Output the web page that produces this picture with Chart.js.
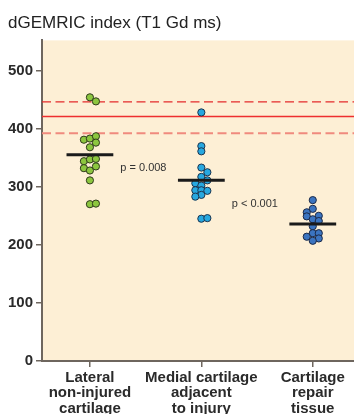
<!DOCTYPE html>
<html>
<head>
<meta charset="utf-8">
<script src="https://cdn.jsdelivr.net/npm/chart.js@4.4.0/dist/chart.umd.min.js"></script>
<style>
  html, body { margin: 0; padding: 0; background: #ffffff; }
  #wrap { width: 354px; height: 414px; }
</style>
</head>
<body>
<div id="wrap"><canvas id="c" width="354" height="414"></canvas></div>
<script>
// ---- data ----
const categories = [
  ["Lateral", "non-injured", "cartilage"],
  ["Medial cartilage", "adjacent", "to injury"],
  ["Cartilage", "repair", "tissue"]
];
const yTickValues = [0, 100, 200, 300, 400, 500];

const lateralValues = [454, 447, 381, 383, 387, 376, 368, 344, 347, 348, 332, 328, 335, 311, 270, 271];
const lateralSlots  = [0, 1, -1, 0, 1, 1, 0, -1, 0, 1, -1, 0, 1, 0, 0, 1];

const medialValues = [428, 370, 361, 333, 325, 317, 311, 306, 302, 294, 294, 293, 286, 283, 245, 246];
const medialSlots  = [0, 0, 0, 0, 1, 0, 1, -1, 0, -1, 0, 1, 0, -1, 0, 1];

const repairValues = [277, 262, 256, 249, 250, 244, 241, 232, 220, 220, 214, 211, 207];
const repairSlots  = [0, 0, -1, -1, 1, 0, 1, 0, 0, 1, -1, 1, 0];

const groupMeans = [355, 311, 236];

const referenceMean = 421;
const referenceUpper = 446;
const referenceLower = 392;

const pTexts = ["p = 0.008", "p < 0.001"];

// ---- layout / style constants ----
const X_MIN = 0.57, X_MAX = 3.37, Y_MAX = 552;
const SLOT = 0.054;     // horizontal spacing of dots in a beeswarm column
const MEAN_HALF = 0.21; // half-length of group mean bars
const pTextPos = [{x: 1.48, y: 333}, {x: 2.48, y: 271}];

function pts(values, slots, cat) {
  return values.map((v, i) => ({x: cat + slots[i] * SLOT, y: v}));
}
function hline(y) { return [{x: X_MIN, y: y}, {x: X_MAX, y: y}]; }

const axisColor = '#6e665e';
const FONT = "'Liberation Sans', Arial, Helvetica, sans-serif";

const datasets = [
  {type: 'line', data: hline(referenceUpper), borderColor: '#e32b2b', borderWidth: 1.2,
   borderDash: [9, 4.5], pointRadius: 0, order: 3},
  {type: 'line', data: hline(referenceMean), borderColor: '#ee2f2f', borderWidth: 1.5,
   pointRadius: 0, order: 3},
  {type: 'line', data: hline(referenceLower), borderColor: '#f08a7e', borderWidth: 2,
   borderDash: [9, 4.5], pointRadius: 0, order: 3},
  {type: 'scatter', data: pts(lateralValues, lateralSlots, 1), backgroundColor: '#8cc63f',
   borderColor: '#2f3a1c', borderWidth: 1, pointRadius: 3.6, order: 2},
  {type: 'scatter', data: pts(medialValues, medialSlots, 2), backgroundColor: '#27a8e0',
   borderColor: '#1b3550', borderWidth: 1, pointRadius: 3.6, order: 2},
  {type: 'scatter', data: pts(repairValues, repairSlots, 3), backgroundColor: '#3b74c0',
   borderColor: '#1c2a48', borderWidth: 1, pointRadius: 3.6, order: 2}
];
groupMeans.forEach((m, i) => {
  datasets.push({type: 'line', data: [{x: i + 1 - MEAN_HALF, y: m}, {x: i + 1 + MEAN_HALF, y: m}],
    borderColor: '#1a1a1a', borderWidth: 3, pointRadius: 0, order: 1});
});

const bgPlugin = {
  id: 'plotBg',
  beforeDraw(chart) {
    const a = chart.chartArea, ctx = chart.ctx;
    ctx.save();
    ctx.fillStyle = '#fdefd5';
    ctx.fillRect(a.left, a.top, a.right - a.left, a.bottom - a.top);
    ctx.restore();
  }
};
const pPlugin = {
  id: 'pText',
  afterDatasetsDraw(chart) {
    const ctx = chart.ctx, xs = chart.scales.x, ys = chart.scales.y;
    ctx.save();
    ctx.fillStyle = '#333333';
    ctx.font = "11px " + FONT;
    ctx.textAlign = 'center';
    ctx.textBaseline = 'middle';
    pTexts.forEach((t, i) => {
      ctx.fillText(t, xs.getPixelForValue(pTextPos[i].x), ys.getPixelForValue(pTextPos[i].y));
    });
    ctx.restore();
  }
};

new Chart(document.getElementById('c'), {
  type: 'scatter',
  data: {datasets: datasets},
  plugins: [bgPlugin, pPlugin],
  options: {
    responsive: false,
    animation: false,
    events: [],
    layout: {autoPadding: false, padding: {left: 8, right: 0, top: 0, bottom: 0}},
    plugins: {
      legend: {display: false},
      tooltip: {enabled: false},
      title: {
        display: true,
        text: 'dGEMRIC index (T1 Gd ms)',
        align: 'start',
        color: '#222222',
        font: {family: FONT, size: 17, weight: 'normal'},
        padding: {top: 13, bottom: 7}
      }
    },
    scales: {
      x: {
        type: 'linear',
        min: X_MIN, max: X_MAX,
        afterBuildTicks(s) { s.ticks = categories.map((c, i) => ({value: i + 1})); },
        afterFit(s) { s.height = 53; s.paddingLeft = 0; s.paddingRight = 0; },
        ticks: {
          autoSkip: false, maxRotation: 0, padding: 3,
          color: '#2a2a2a',
          font: {family: FONT, size: 15, weight: 'bold', lineHeight: 1.03},
          callback: (v) => categories[Math.round(v) - 1] || ''
        },
        grid: {display: true, drawOnChartArea: false, drawTicks: true, tickLength: 6,
               color: axisColor, lineWidth: 1.5},
        border: {display: true, color: axisColor, width: 2}
      },
      y: {
        type: 'linear',
        min: 0, max: Y_MAX,
        afterBuildTicks(s) { s.ticks = yTickValues.map(v => ({value: v})); },
        afterFit(s) { s.width = 34; s.paddingTop = 0; s.paddingBottom = 0; },
        ticks: {
          padding: 3,
          color: '#2a2a2a',
          font: {family: FONT, size: 15, weight: 'bold'}
        },
        grid: {display: true, drawOnChartArea: false, drawTicks: true, tickLength: 6,
               color: axisColor, lineWidth: 1.5},
        border: {display: true, color: axisColor, width: 2}
      }
    }
  }
});
</script>
</body>
</html>
